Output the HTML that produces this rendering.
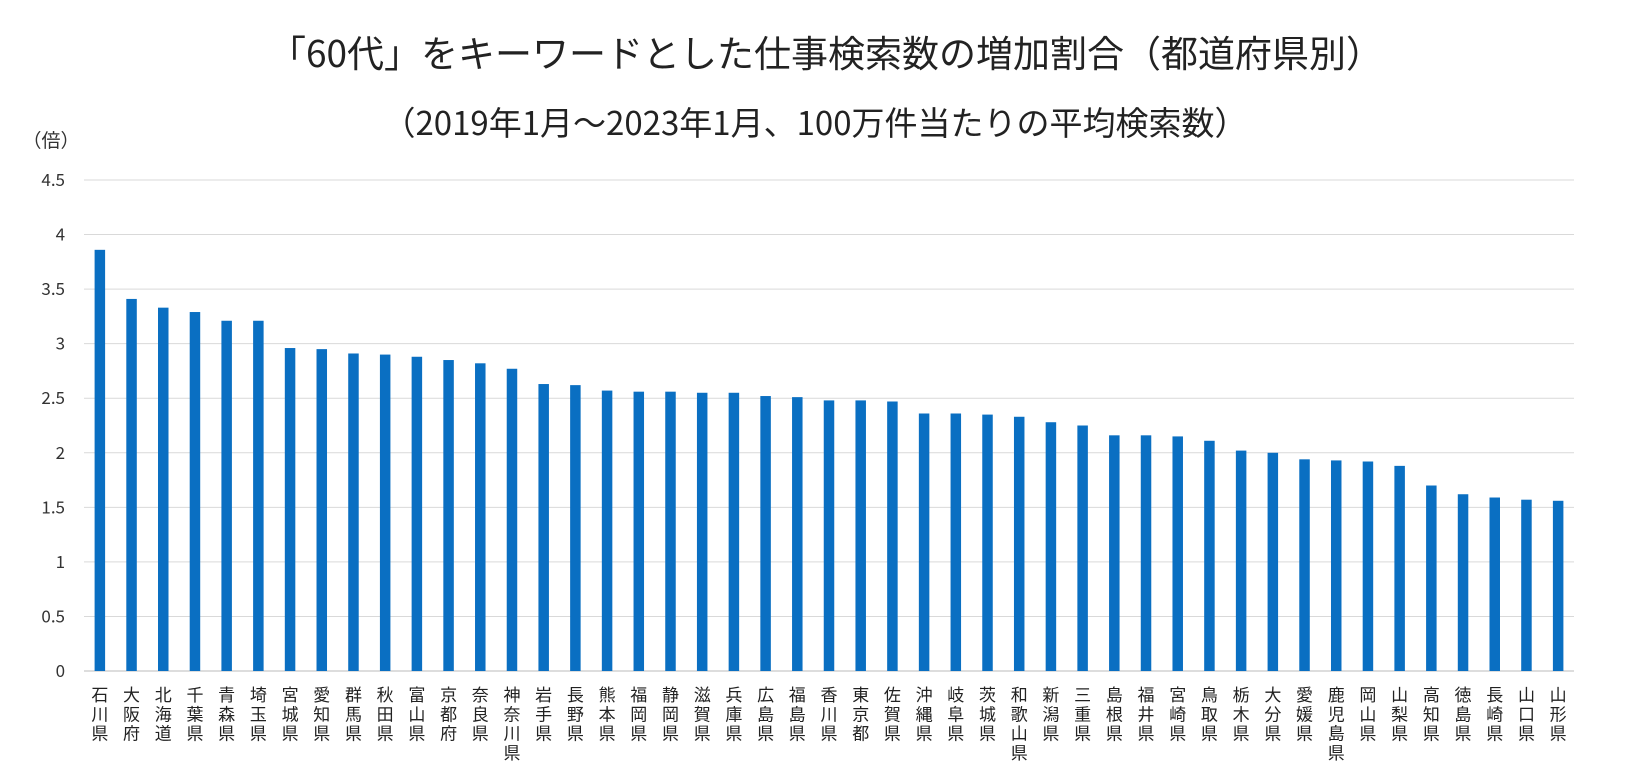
<!DOCTYPE html>
<html><head><meta charset="utf-8"><style>
body{margin:0;background:#fff;}
svg{display:block;font-family:"Noto Sans CJK JP","Liberation Sans",sans-serif;}
</style></head><body>
<svg id="chart" width="1632" height="775" viewBox="0 0 1632 775">
<text x="826" y="67" text-anchor="middle" font-size="37" fill="#222">「60代」をキーワードとした仕事検索数の増加割合（都道府県別）</text>
<text x="815" y="135" text-anchor="middle" font-size="33" fill="#222">（2019年1月～2023年1月、100万件当たりの平均検索数）</text>
<text x="51" y="147" text-anchor="middle" font-size="19" fill="#333">（倍）</text>
<g id="grid"></g><g id="bars"></g><g id="labels"></g>
</svg>
<script>
const categories=["石川県","大阪府","北海道","千葉県","青森県","埼玉県","宮城県","愛知県","群馬県","秋田県","富山県","京都府","奈良県","神奈川県","岩手県","長野県","熊本県","福岡県","静岡県","滋賀県","兵庫県","広島県","福島県","香川県","東京都","佐賀県","沖縄県","岐阜県","茨城県","和歌山県","新潟県","三重県","島根県","福井県","宮崎県","鳥取県","栃木県","大分県","愛媛県","鹿児島県","岡山県","山梨県","高知県","徳島県","長崎県","山口県","山形県"];
const values=[3.86,3.41,3.33,3.29,3.21,3.21,2.96,2.95,2.91,2.90,2.88,2.85,2.82,2.77,2.63,2.62,2.57,2.56,2.56,2.55,2.55,2.52,2.51,2.48,2.48,2.47,2.36,2.36,2.35,2.33,2.28,2.25,2.16,2.16,2.15,2.11,2.02,2.00,1.94,1.93,1.92,1.88,1.70,1.62,1.59,1.57,1.56];
const ticks=[0,0.5,1,1.5,2,2.5,3,3.5,4,4.5];
const tickLabels=["0","0.5","1","1.5","2","2.5","3","3.5","4","4.5"];
const NS="http://www.w3.org/2000/svg";
const x0=84,x1=1574,yBase=671,yTop=180,yMax=4.5;
const y=v=>yBase-(v/yMax)*(yBase-yTop);
const step=(x1-x0)/categories.length;
const xc=i=>x0+step*(i+0.5);
function mk(tag,attrs,parent){const e=document.createElementNS(NS,tag);for(const k in attrs)e.setAttribute(k,attrs[k]);parent.appendChild(e);return e;}
const grid=document.getElementById('grid'),bars=document.getElementById('bars'),labels=document.getElementById('labels');
ticks.forEach((t,i)=>{
 const l=mk('line',{x1:x0,x2:x1,y1:y(t),y2:y(t),stroke:t===0?'#bbb':'#d9d9d9','stroke-width':1},grid);
 
 
 const tx=mk('text',{x:65,y:y(t)+6,'text-anchor':'end','font-size':17,fill:'#333'},grid);
 tx.textContent=tickLabels[i];
 
 
});
categories.forEach((c,i)=>{
 const r=mk('rect',{x:xc(i)-5.25,y:y(values[i]),width:10.5,height:yBase-y(values[i]),fill:'#0A6FC2'},bars);
 
 
 const t=mk('text',{x:xc(i),'text-anchor':'middle','font-size':17,fill:'#222'},labels);
 
 
 [...c].forEach((ch,j)=>{const s=mk('tspan',{x:xc(i),y:701+j*19.3},t);s.textContent=ch;});
});
</script>
</body></html>
